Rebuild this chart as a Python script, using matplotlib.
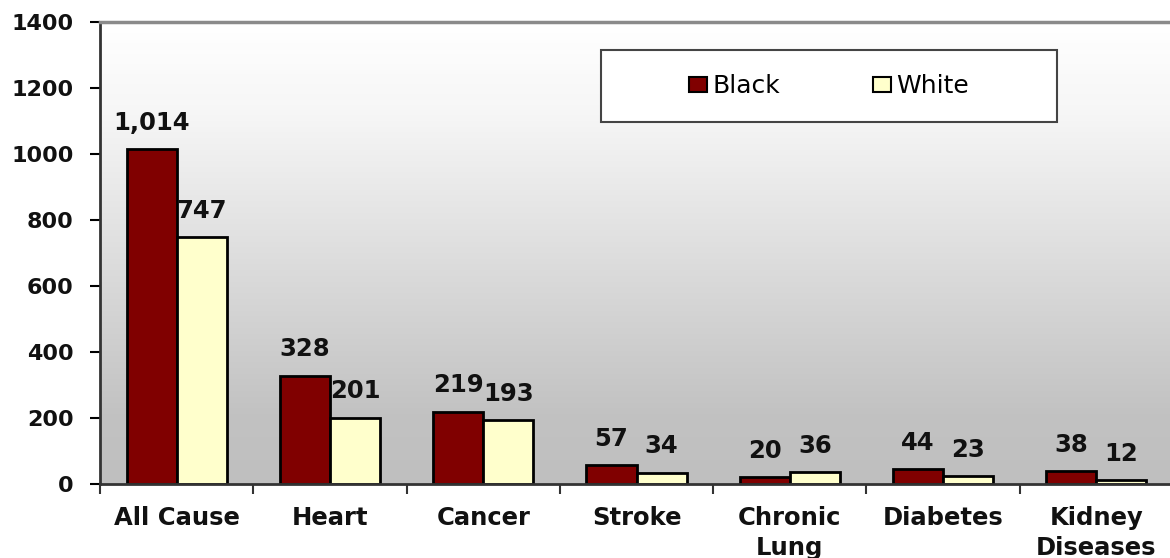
import numpy as np
import matplotlib
matplotlib.use("Agg")
import matplotlib.pyplot as plt
from matplotlib.colors import LinearSegmentedColormap
from matplotlib.patches import Rectangle, Patch

categories = ["All Cause", "Heart", "Cancer", "Stroke", "Chronic\nLung", "Diabetes", "Kidney\nDiseases"]
black_vals = [1014, 328, 219, 57, 20, 44, 38]
white_vals = [747, 201, 193, 34, 36, 23, 12]
black_labels = ["1,014", "328", "219", "57", "20", "44", "38"]
white_labels = ["747", "201", "193", "34", "36", "23", "12"]
yticks = [0, 200, 400, 600, 800, 1000, 1200, 1400]

plt.rcParams['font.family'] = ['DejaVu Sans']

fig = plt.figure(figsize=(11.7, 5.58), dpi=100)
ax = fig.add_axes([100/1170, 1-484/558, 1073/1170, (484-22)/558])

# gradient background
cmap = LinearSegmentedColormap.from_list("bg", [(0.0, "#bfbfbf"), (0.15, "#c2c2c2"), (0.8, "#f6f6f6"), (1.0, "#ffffff")])
grad = np.linspace(1, 0, 256).reshape(-1, 1)
ax.imshow(grad, extent=[0, 1, 0, 1], transform=ax.transAxes, aspect='auto', cmap=cmap, vmin=0, vmax=1, zorder=0)

x = np.arange(len(categories))
w = 0.327
ax.bar(x - w/2, black_vals, w, color="#800000", edgecolor="black", linewidth=2, zorder=2)
ax.bar(x + w/2, white_vals, w, color="#FFFFCC", edgecolor="black", linewidth=2, zorder=2)

for i in range(len(categories)):
    ax.annotate(black_labels[i], (x[i] - w/2, black_vals[i]), xytext=(0, 14), textcoords="offset points",
                ha="center", va="baseline", fontsize=17.5, fontweight="bold", color="#111111", zorder=3)
    ax.annotate(white_labels[i], (x[i] + w/2, white_vals[i]), xytext=(0, 14), textcoords="offset points",
                ha="center", va="baseline", fontsize=17.5, fontweight="bold", color="#111111", zorder=3)

ax.set_xlim(-0.5, len(categories) - 0.5)
ax.set_ylim(0, 1400)
ax.set_yticks(yticks)
ax.set_yticklabels([str(v) for v in yticks], fontsize=16, fontweight="bold", color="#111111")
ax.tick_params(axis="y", length=7, width=1.5, pad=12, color="black")

ax.set_xticks(np.arange(-0.5, len(categories), 1.0))
ax.set_xticklabels([])
ax.tick_params(axis="x", which="major", length=7, width=1.5, color="#333333")
ax.set_xticks(x, minor=True)
ax.set_xticklabels(categories, minor=True, fontsize=17.5, fontweight="bold", linespacing=1.3, color="#111111")
ax.tick_params(axis="x", which="minor", length=0, pad=16)

ax.spines["left"].set_color("#333333")
ax.spines["left"].set_linewidth(2)
ax.spines["bottom"].set_color("#333333")
ax.spines["bottom"].set_linewidth(2)
ax.spines["top"].set_color("#8a8a8a")
ax.spines["top"].set_linewidth(2.5)
ax.spines["right"].set_visible(False)

# legend
fx0, fy0, fw, fh = 601/1170, 1-122/558, 456/1170, 72/558
frame = Rectangle((fx0, fy0), fw, fh, transform=fig.transFigure, facecolor="white",
                  edgecolor="#444444", linewidth=1.5, zorder=5)
fig.patches.append(frame)
handles = [Patch(facecolor="#800000", edgecolor="black", linewidth=1.5, label="Black"),
           Patch(facecolor="#FFFFCC", edgecolor="black", linewidth=1.5, label="White")]
leg = fig.legend(handles=handles, loc="center", bbox_to_anchor=(fx0 + fw/2, fy0 + fh/2),
                 bbox_transform=fig.transFigure, ncol=2, frameon=False, fontsize=18,
                 handlelength=0.72, handleheight=0.56, handletextpad=0.2, columnspacing=3.7)
leg.set_zorder(6)

fig.savefig("out.png", dpi=100)
